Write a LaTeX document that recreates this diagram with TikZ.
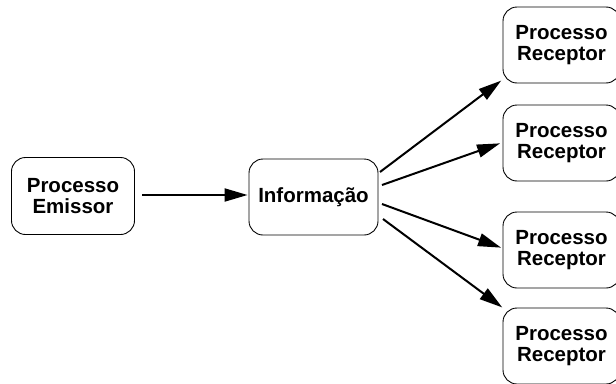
\documentclass[tikz,border=0pt]{standalone}
\usepackage{fontspec}
\setmainfont{Liberation Sans}
\usetikzlibrary{arrows.meta}
\begin{document}
\begin{tikzpicture}[x=1pt,y=-1pt,
  procbox/.style={draw=black, line width=0.9pt, rounded corners=14pt,
    minimum width=#1, align=center, inner sep=0pt,
    font=\fontsize{20.5}{21.5}\selectfont\bfseries},
  flow/.style={line width=2pt, -{Triangle[length=23pt,width=13pt]}, shorten >=1pt}]
  \useasboundingbox (0,0) rectangle (616,383);

  % sender, information and receivers
  \node[procbox=123pt, minimum height=77pt] (emissor) at (73,196) {Processo\\Emissor\hspace*{0pt}};
  \node[procbox=129pt, minimum height=76pt] (info) at (313.5,197) {Informação};
  \node[procbox=117pt, minimum height=76pt] (rec1) at (561.5,45) {Processo\\Receptor};
  \node[procbox=117pt, minimum height=76pt] (rec2) at (561.5,143) {Processo\\Receptor};
  \node[procbox=117pt, minimum height=76pt] (rec3) at (561.5,250) {Processo\\Receptor};
  \node[procbox=117pt, minimum height=76pt] (rec4) at (561.5,346) {Processo\\Receptor};

  % connectors
  \coordinate (e0) at (142,195);
  \draw[flow] (e0) -- (info.west |- e0);
  \coordinate (s1) at (380,172);
  \coordinate (t1) at (502,80);
  \coordinate (s2) at (382,185);
  \coordinate (t2) at (501,143);
  \coordinate (s3) at (382,204);
  \coordinate (t3) at (502,248);
  \coordinate (s4) at (383,219);
  \coordinate (t4) at (503,308);
  \draw[flow] (s1) -- (t1);
  \draw[flow] (s2) -- (t2);
  \draw[flow] (s3) -- (t3);
  \draw[flow] (s4) -- (t4);
\end{tikzpicture}
\end{document}
